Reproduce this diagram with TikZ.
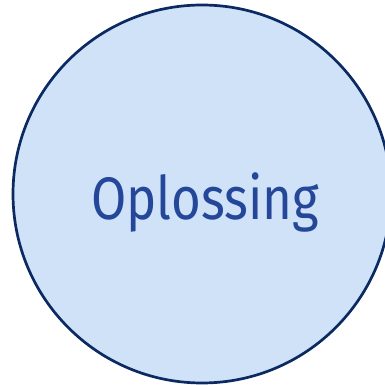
\documentclass[tikz,border=0pt]{standalone}
\usepackage{fontspec}
\setmainfont{Fira Sans}
\definecolor{circfill}{HTML}{D0E2F8}
\definecolor{circdraw}{HTML}{0B2A62}
\definecolor{txtblue}{HTML}{24479A}
\begin{document}
\begin{tikzpicture}[x=1pt,y=1pt,
  bubble/.style={circle,draw=circdraw,fill=circfill,line width=2.7pt,minimum size=378pt,inner sep=0pt},
  label/.style={text=txtblue,font=\fontsize{60}{60}\selectfont,anchor=base,inner sep=0pt,xscale=0.85}]
\useasboundingbox (0,0) rectangle (385,385);
\node[bubble] (c) at (202,191) {};
\node[label] (t) at (205,165) {Oplossing};
\end{tikzpicture}
\end{document}
